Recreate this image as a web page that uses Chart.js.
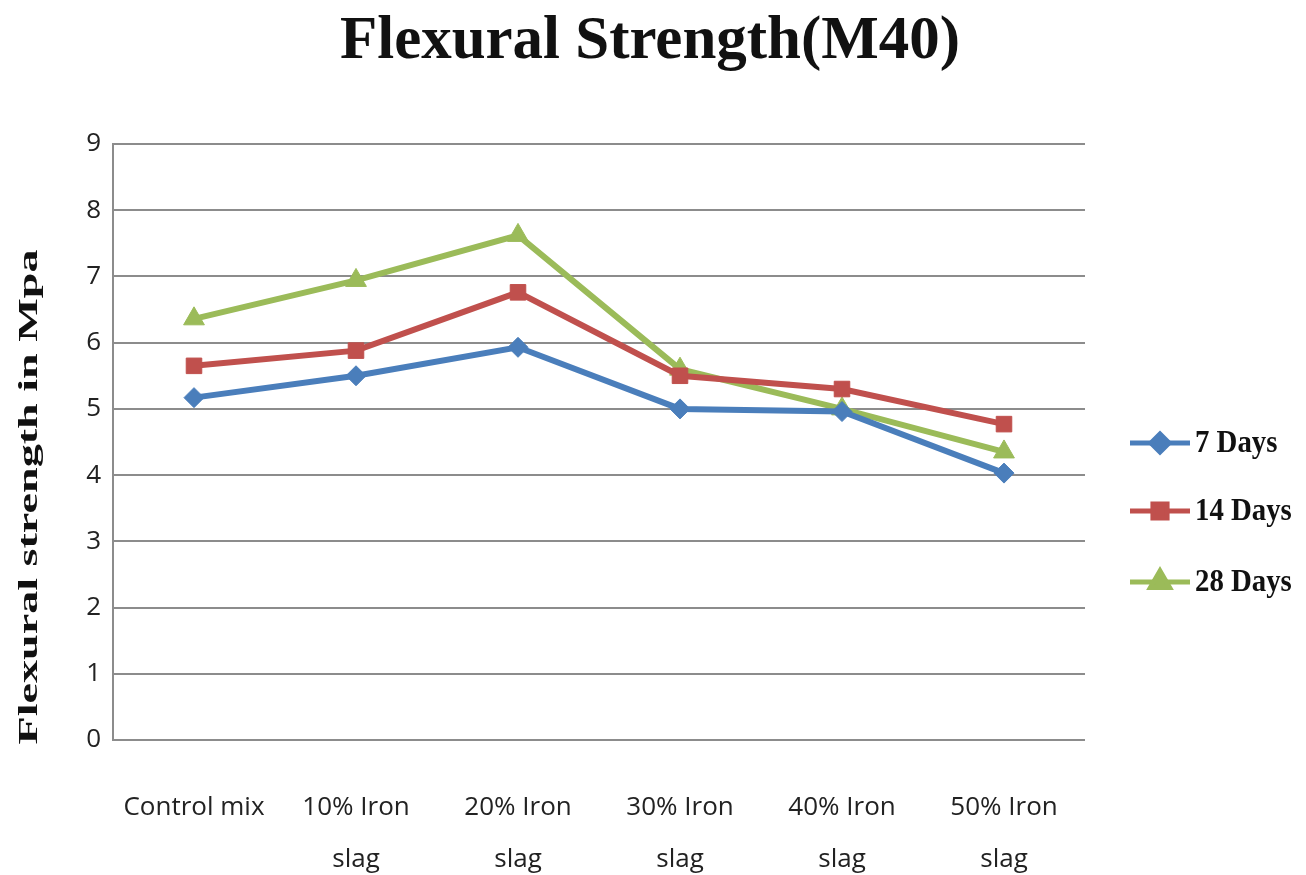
<!DOCTYPE html>
<html>
<head>
<meta charset="utf-8">
<script src="https://cdn.jsdelivr.net/npm/chart.js@4"></script>
<style>
  html, body { margin: 0; padding: 0; background: #fff; }
  #wrap { width: 1306px; height: 875px; }
</style>
</head>
<body>
<div id="wrap"><canvas id="chart"></canvas></div>
<script>
// Data
const categories = [
  'Control mix',
  ['10% Iron', 'slag'],
  ['20% Iron', 'slag'],
  ['30% Iron', 'slag'],
  ['40% Iron', 'slag'],
  ['50% Iron', 'slag']
];
const days7 = [5.17, 5.5, 5.93, 5.0, 4.96, 4.03];
const days14 = [5.65, 5.88, 6.76, 5.5, 5.3, 4.77];
const days28 = [6.36, 6.94, 7.62, 5.6, 5.0, 4.35];
const seriesNames = ['7 Days', '14 Days', '28 Days'];
const yTicks = [0, 1, 2, 3, 4, 5, 6, 7, 8, 9];
const chartTitle = 'Flexural Strength(M40)';
const yTitle = 'Flexural strength in Mpa';

const COLORS = {
  blue: '#4a7ebb',
  red: '#c0504d',
  green: '#9bbb59',
  grid: '#8c8c8c',
  text: '#111'
};

const SERIF = "'Liberation Serif', 'Times New Roman', serif";

// text squeezed/stretched to a given width, like the stretched original image
function fitText(ctx, text, x, y, width, font, align) {
  ctx.font = font;
  const w = ctx.measureText(text).width;
  ctx.save();
  ctx.translate(x, y);
  ctx.scale(width / w, 1);
  ctx.textAlign = align;
  ctx.fillText(text, 0, 0);
  ctx.restore();
}

// Title, rotated axis title and line+marker legend
const decorations = {
  id: 'decorations',
  afterDraw(chart) {
    const ctx = chart.ctx;
    ctx.save();
    ctx.fillStyle = COLORS.text;
    ctx.textBaseline = 'alphabetic';
    fitText(ctx, chartTitle, 650, 58, 620, `bold 61px ${SERIF}`, 'center');

    ctx.save();
    ctx.translate(30, 497);
    ctx.rotate(-Math.PI / 2);
    ctx.textBaseline = 'middle';
    fitText(ctx, yTitle, 0, 0, 495, `bold 28px ${SERIF}`, 'center');
    ctx.restore();

    const x0 = 1130, lineLen = 60;
    const ys = [443, 511, 582];
    chart.data.datasets.forEach((ds, i) => {
      const y = ys[i];
      ctx.strokeStyle = ds.borderColor;
      ctx.lineWidth = 5;
      ctx.beginPath();
      ctx.moveTo(x0, y);
      ctx.lineTo(x0 + lineLen, y);
      ctx.stroke();
      ctx.fillStyle = ds.borderColor;
      Chart.helpers.drawPoint(ctx, {
        pointStyle: ds.pointStyle,
        radius: ds.pointRadius - 1,
        rotation: 0,
        borderWidth: 1
      }, x0 + lineLen / 2, y);
      ctx.fillStyle = COLORS.text;
      ctx.textBaseline = 'middle';
      ctx.font = `bold 32px ${SERIF}`;
      const w = ctx.measureText(ds.label).width;
      fitText(ctx, ds.label, x0 + lineLen + 5, y + 1, w * 0.9, ctx.font, 'left');
    });
    ctx.restore();
  }
};

function makeSet(label, data, color, style, radius) {
  return {
    label,
    data,
    borderColor: color,
    backgroundColor: color,
    borderWidth: 6,
    pointStyle: style,
    pointRadius: radius,
    pointBackgroundColor: color,
    pointBorderColor: color,
    pointBorderWidth: 1,
    tension: 0
  };
}

new Chart(document.getElementById('chart'), {
  type: 'line',
  data: {
    labels: categories,
    datasets: [
      makeSet(seriesNames[0], days7, COLORS.blue, 'rectRot', 10),
      makeSet(seriesNames[1], days14, COLORS.red, 'rect', 11),
      makeSet(seriesNames[2], days28, COLORS.green, 'triangle', 12)
    ]
  },
  options: {
    responsive: true,
    maintainAspectRatio: false,
    animation: false,
    layout: { padding: { left: 0, right: 221, top: 144, bottom: 0 } },
    plugins: {
      legend: { display: false },
      tooltip: { enabled: false },
      title: { display: false }
    },
    scales: {
      x: {
        offset: true,
        grid: { display: false, drawTicks: false },
        border: { display: false },
        ticks: {
          color: '#222',
          font: { family: "'Open Sans', sans-serif", size: 26, lineHeight: 2.0 },
          padding: 42,
          maxRotation: 0,
          autoSkip: false
        },
        afterFit(scale) { scale.height = 135; }
      },
      y: {
        min: 0,
        max: 9,
        afterBuildTicks(scale) { scale.ticks = yTicks.map(v => ({ value: v })); },
        grid: { color: COLORS.grid, lineWidth: 2, drawTicks: false },
        border: { display: true, color: COLORS.grid, width: 2 },
        ticks: {
          color: '#222',
          font: { family: "'Open Sans', sans-serif", size: 26 },
          padding: 12
        },
        afterFit(scale) { scale.width = 113; }
      }
    }
  },
  plugins: [decorations]
});
</script>
</body>
</html>
